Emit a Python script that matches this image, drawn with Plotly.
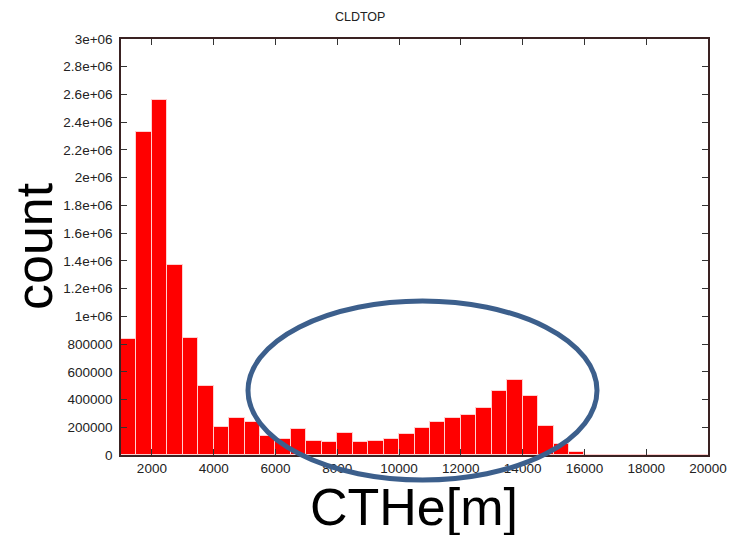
import plotly.graph_objects as go

# Histogram bins (lower edges, m) and counts
bin_start = list(range(1000, 20000, 500))
counts = [834000, 2330000, 2557000, 1370000, 841000, 497000, 204000, 269000,
          236000, 137000, 113000, 187000, 99000, 92000, 161000, 94000,
          103000, 115000, 149000, 192000, 236000, 265000, 286000, 341000,
          464000, 538000, 425000, 211000, 79000, 22000, 3000, 2000,
          0, 0, 0, 0, 0, 0]
bin_width = 500
x_ticks = list(range(2000, 20001, 2000))
y_ticks = list(range(0, 3000001, 200000))
y_ticklabels = ["0", "200000", "400000", "600000", "800000", "1e+06", "1.2e+06",
                "1.4e+06", "1.6e+06", "1.8e+06", "2e+06", "2.2e+06", "2.4e+06",
                "2.6e+06", "2.8e+06", "3e+06"]

centers = [b + bin_width / 2 for b in bin_start]

FONT = "Liberation Sans, Arial, Helvetica, sans-serif"

fig = go.Figure()
fig.add_trace(go.Bar(
    x=centers, y=counts, width=bin_width,
    marker=dict(color="#ff0000", line=dict(color="#ffd0d0", width=1)),
    showlegend=False,
))

W, H = 729, 535
L, R, T, B = 121, 21, 39, 80
pw, ph = W - L - R, H - T - B

def px_x(px):
    return (px - L) / pw

def px_y(py):
    return (H - B - py) / ph

fig.update_layout(
    width=W, height=H,
    margin=dict(l=L, r=R, t=T, b=B, autoexpand=False),
    paper_bgcolor="white", plot_bgcolor="white",
    bargap=0,
    font=dict(family=FONT, size=12, color="#222"),
    title=dict(text="CLDTOP", x=px_x(411), xanchor="center",
               y=1 - 17 / H, yanchor="middle",
               font=dict(family=FONT, size=12.5, color="#222")),
)
fig.update_xaxes(
    range=[1000, 20000], tickvals=x_ticks, ticktext=[str(v) for v in x_ticks],
    ticks="inside", ticklen=6, tickcolor="#333", showline=True, linecolor="#3a2222",
    linewidth=1.5, mirror="ticks", showgrid=False, zeroline=False, automargin=False,
    tickfont=dict(family=FONT, size=13.5, color="#222"),
)
fig.update_yaxes(
    range=[0, 3000000], tickvals=y_ticks, ticktext=y_ticklabels,
    ticks="inside", ticklen=6, tickcolor="#333", showline=True, linecolor="#3a2222",
    linewidth=1.5, mirror="ticks", showgrid=False, zeroline=False, automargin=False,
    ticklabelstandoff=4,
    tickfont=dict(family=FONT, size=13.5, color="#222"),
)

fig.add_annotation(text="count", xref="paper", yref="paper",
                   x=px_x(34), y=px_y(246), xanchor="center", yanchor="middle",
                   textangle=-90, showarrow=False,
                   font=dict(family=FONT, size=52, color="black"))
fig.add_annotation(text="CTHe[m]", xref="paper", yref="paper",
                   x=px_x(414), y=px_y(507), xanchor="center", yanchor="middle",
                   showarrow=False,
                   font=dict(family=FONT, size=52, color="black"))

fig.add_shape(type="circle", xref="paper", yref="paper",
              x0=px_x(248), x1=px_x(597), y0=px_y(480), y1=px_y(301),
              line=dict(color="#3c5f8c", width=5), fillcolor="rgba(0,0,0,0)")

fig.write_html("out.html")
